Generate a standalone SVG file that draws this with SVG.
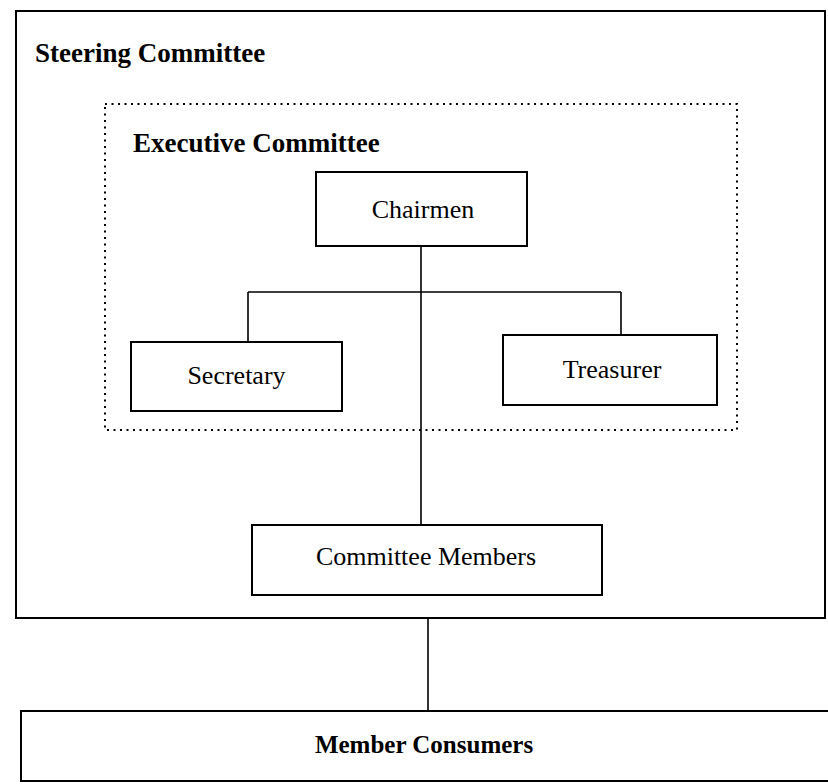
<svg xmlns="http://www.w3.org/2000/svg" width="828" height="784" viewBox="0 0 828 784">
<style>
.box{fill:none;stroke:#000;stroke-width:2}
.dot{fill:none;stroke:#000;stroke-width:2;stroke-dasharray:2 4.5}
.ln{fill:none;stroke:#000;stroke-width:1.6}
.t{font-family:"Liberation Serif","Times New Roman",serif;font-size:26px;fill:#000;text-anchor:middle}
.h{font-family:"Liberation Serif","Times New Roman",serif;font-size:27px;font-weight:bold;fill:#000}
</style>
<rect width="828" height="784" fill="#fff"/>
<g id="steering-committee">
<rect class="box" x="16" y="11" width="809" height="607"/>
<text class="h" x="35" y="62">Steering Committee</text>
</g>
<g id="executive-committee">
<rect class="dot" x="105" y="104" width="632" height="326"/>
<text class="h" x="133" y="152">Executive Committee</text>
</g>
<g id="connectors">
<path class="ln" d="M248 292H621M248 292V342M621 292V335M421 246V525M428 618V711"/>
</g>
<g id="chairmen">
<rect class="box" x="316" y="172" width="211" height="74"/>
<text class="t" x="423" y="218">Chairmen</text>
</g>
<g id="secretary">
<rect class="box" x="131" y="342" width="211" height="69"/>
<text class="t" x="236.5" y="384">Secretary</text>
</g>
<g id="treasurer">
<rect class="box" x="503" y="335" width="214" height="70"/>
<text class="t" x="612" y="378">Treasurer</text>
</g>
<g id="committee-members">
<rect class="box" x="252" y="525" width="350" height="70"/>
<text class="t" x="426" y="565">Committee Members</text>
</g>
<g id="member-consumers">
<rect class="box" x="21" y="711" width="830" height="70"/>
<text class="h" x="424" y="753" text-anchor="middle" style="font-size:25px">Member Consumers</text>
</g>
</svg>
